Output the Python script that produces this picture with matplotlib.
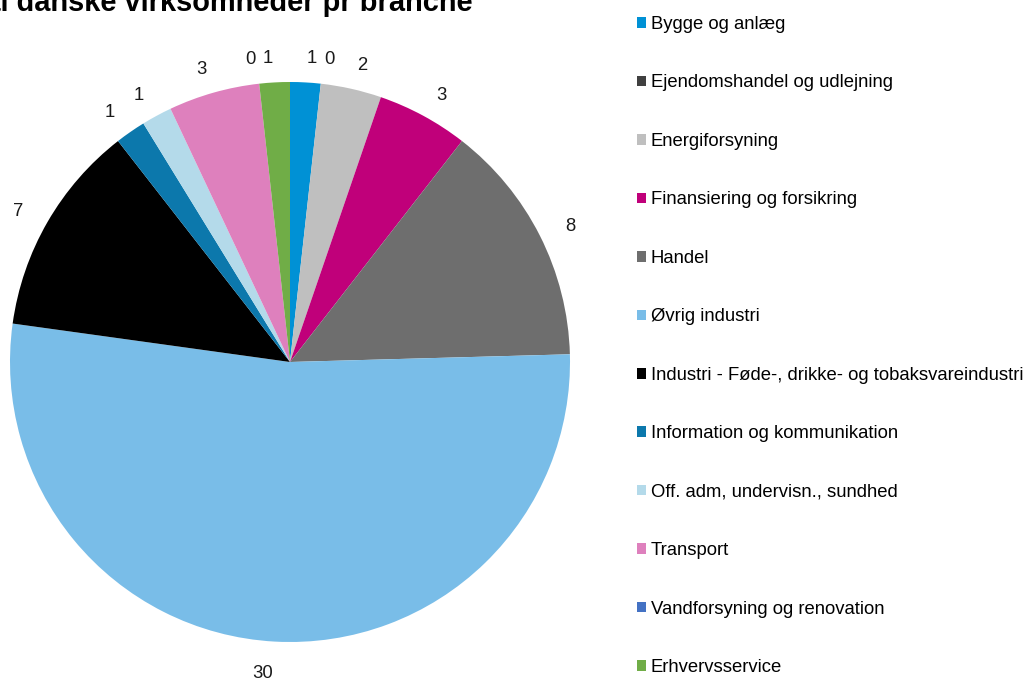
import matplotlib.pyplot as plt
from matplotlib.patches import Patch
from matplotlib.transforms import offset_copy

plt.rcParams['font.family'] = ['Liberation Sans', 'DejaVu Sans']

# Brancher og antal virksomheder
brancher = ['Bygge og anlæg', 'Ejendomshandel og udlejning', 'Energiforsyning',
            'Finansiering og forsikring', 'Handel', 'Øvrig industri',
            'Industri - Føde-, drikke- og tobaksvareindustri',
            'Information og kommunikation', 'Off. adm, undervisn., sundhed',
            'Transport', 'Vandforsyning og renovation', 'Erhvervsservice']
antal = [1, 0, 2, 3, 8, 30, 7, 1, 1, 3, 0, 1]
farver = ['#0091D5', '#404040', '#BFBFBF', '#C0007A', '#6E6E6E', '#79BDE8',
          '#000000', '#0C78AC', '#B4DAEA', '#DE80BD', '#4472C4', '#70AD47']

fig = plt.figure(figsize=(10.29, 6.78), dpi=100)

# Pie-akse: centrum (290, 362) px, radius 280 px
r = 280
cx, cy = 290, 362
W, H = 1029, 678
ax = fig.add_axes([(cx - r) / W, (H - cy - r) / H, 2 * r / W, 2 * r / H])
wedges, texts = ax.pie(antal, colors=farver, labels=[str(v) for v in antal],
                       startangle=90, counterclock=False, labeldistance=1.1,
                       textprops={'fontsize': 13.3, 'color': '#1a1a1a'},
                       wedgeprops={'linewidth': 0})
# flyt etiketterne lidt ned
for t in texts:
    t.set_transform(offset_copy(t.get_transform(), fig=fig, x=0, y=-4, units='dots'))
ax.set_aspect('equal')
ax.set_xlim(-1, 1)
ax.set_ylim(-1, 1)

# Titel (beskaaret i toppen og til venstre som i originalen)
fig.text(473 / W, 1 - 11 / H, 'Antal danske virksomheder pr branche',
         ha='right', va='baseline', fontsize=20.9, fontweight='bold')

# Legende
handles = [Patch(facecolor=c, edgecolor='none') for c in farver]
fig.legend(handles, brancher, loc='upper left', bbox_to_anchor=(637 / W, 1 - 16 / H),
           frameon=False, fontsize=13.3, handlelength=0.5, handleheight=0.5,
           handletextpad=0.25, labelspacing=2.245, borderaxespad=0, borderpad=0)

plt.savefig('out.png', dpi=100)
plt.close()
